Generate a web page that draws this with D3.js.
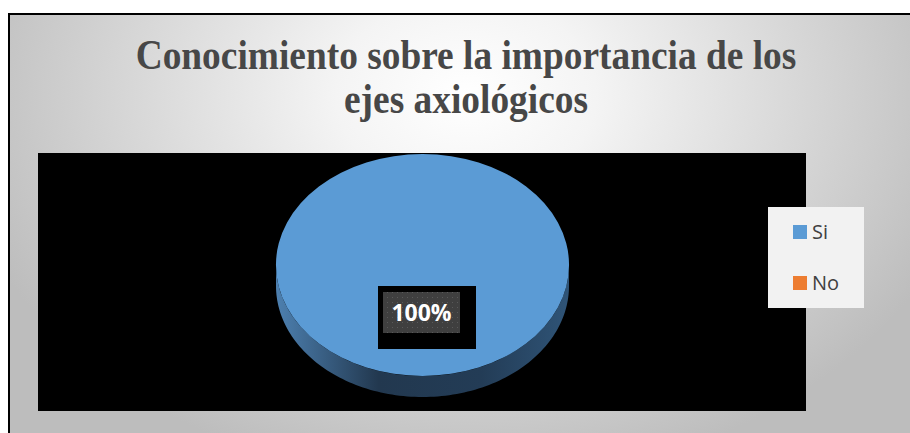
<!DOCTYPE html>
<html><head><meta charset="utf-8">
<script src="https://cdn.jsdelivr.net/npm/d3@7/dist/d3.min.js"></script>
<style>html,body{margin:0;padding:0;background:#fff;}svg{display:block;}</style>
</head><body>
<script>
const titleLines = ["Conocimiento sobre la importancia de los", "ejes axiológicos"];
const categories = ["Si", "No"];
const values = [100, 0];
const colors = ["#5b9bd5", "#ed7d31"];

const W = 910, H = 433;
const svg = d3.select("body").append("svg").attr("width", W).attr("height", H);
const defs = svg.append("defs");

const bg = defs.append("radialGradient").attr("id", "bg")
  .attr("gradientUnits", "userSpaceOnUse").attr("cx", 466).attr("cy", 95).attr("r", 520)
  .attr("gradientTransform", "translate(466,95) scale(1,0.75) translate(-466,-95)");
bg.append("stop").attr("offset", "0").attr("stop-color", "#ffffff");
bg.append("stop").attr("offset", "0.25").attr("stop-color", "#f4f4f4");
bg.append("stop").attr("offset", "1").attr("stop-color", "#bdbdbd");

const side = defs.append("linearGradient").attr("id", "side")
  .attr("x1", "0").attr("x2", "1").attr("y1", "0").attr("y2", "0");
side.append("stop").attr("offset", "0").attr("stop-color", "#4d80b0");
side.append("stop").attr("offset", "0.35").attr("stop-color", "#22384f");
side.append("stop").attr("offset", "0.7").attr("stop-color", "#233c56");
side.append("stop").attr("offset", "1").attr("stop-color", "#2f5477");

const pat = defs.append("pattern").attr("id", "dots").attr("patternUnits", "userSpaceOnUse")
  .attr("width", 5).attr("height", 5);
pat.append("rect").attr("width", 5).attr("height", 5).attr("fill", "#3f3f3f");
pat.append("rect").attr("x", 2).attr("y", 2).attr("width", 1).attr("height", 1).attr("fill", "#595959");

// chart area background + border
svg.append("rect").attr("x", 9).attr("y", 14).attr("width", W).attr("height", H)
  .attr("fill", "url(#bg)").attr("stroke", "#000").attr("stroke-width", 2);

// title
const tg = svg.append("g").attr("font-family", "'Liberation Serif','Times New Roman',serif")
  .attr("font-weight", "bold").attr("fill", "#474747").attr("text-anchor", "middle");
const t1 = tg.append("text").attr("x", 466).attr("y", 69).attr("font-size", 100).text(titleLines[0]);
const fs = 100 * 661 / t1.node().getComputedTextLength();
t1.attr("font-size", fs).attr("transform", "translate(0,69) scale(1,1.12) translate(0,-69)");
tg.append("text").attr("x", 466).attr("y", 113).attr("font-size", fs)
  .attr("transform", "translate(0,113) scale(1,1.12) translate(0,-113)").text(titleLines[1]);

// plot area
svg.append("rect").attr("x", 38).attr("y", 153).attr("width", 768).attr("height", 258).attr("fill", "#000");

// 3D pie
const cx = 422.5, cy = 265, rx = 146.5, ry = 111, depth = 21;
const pie = d3.pie().sort(null)(values);
const pt = (a, dy) => [cx + rx * Math.sin(a), cy - ry * Math.cos(a) + dy];

pie.forEach((d, i) => {
  const a0 = Math.max(d.startAngle, Math.PI / 2), a1 = Math.min(d.endAngle, 3 * Math.PI / 2);
  if (a1 <= a0) return;
  const n = 120, top = [], bot = [];
  for (let k = 0; k <= n; k++) { const a = a0 + (a1 - a0) * k / n; top.push(pt(a, 0)); bot.push(pt(a, depth)); }
  const pts = top.concat(bot.reverse());
  svg.append("path").attr("d", d3.line()(pts) + "Z")
    .attr("fill", i === 0 ? "url(#side)" : d3.color(colors[i]).darker(1.2));
});

const arc = d3.arc().innerRadius(0).outerRadius(rx);
const pg = svg.append("g").attr("transform", `translate(${cx},${cy}) scale(1,${ry / rx})`);
pg.selectAll("path").data(pie).join("path")
  .attr("d", d => d.endAngle - d.startAngle > 0 ? arc(d) : null)
  .attr("fill", (d, i) => colors[i]);

// data label
const total = d3.sum(values);
const lab = pie[0];
svg.append("rect").attr("x", 378).attr("y", 286).attr("width", 98).attr("height", 63).attr("fill", "#000");
svg.append("rect").attr("x", 383).attr("y", 292).attr("width", 77).attr("height", 41).attr("fill", "url(#dots)");
svg.append("text").attr("x", 421.5).attr("y", 321).attr("text-anchor", "middle")
  .attr("font-family", "'Open Sans',sans-serif").attr("font-weight", "bold").attr("font-size", 23)
  .attr("fill", "#fff").text(d3.format(".0%")(lab.value / total));

// legend
svg.append("rect").attr("x", 768).attr("y", 207).attr("width", 96).attr("height", 101).attr("fill", "#f2f2f2");
const lg = svg.append("g");
const ly0 = [225, 276];
categories.forEach((c, i) => {
  lg.append("rect").attr("x", 793).attr("y", ly0[i]).attr("width", 14).attr("height", 14).attr("fill", colors[i]);
  lg.append("text").attr("x", 812).attr("y", ly0[i] + 14).attr("font-family", "'Open Sans',sans-serif")
    .attr("font-size", 20).attr("fill", "#404040").text(c);
});
</script>
</body></html>
